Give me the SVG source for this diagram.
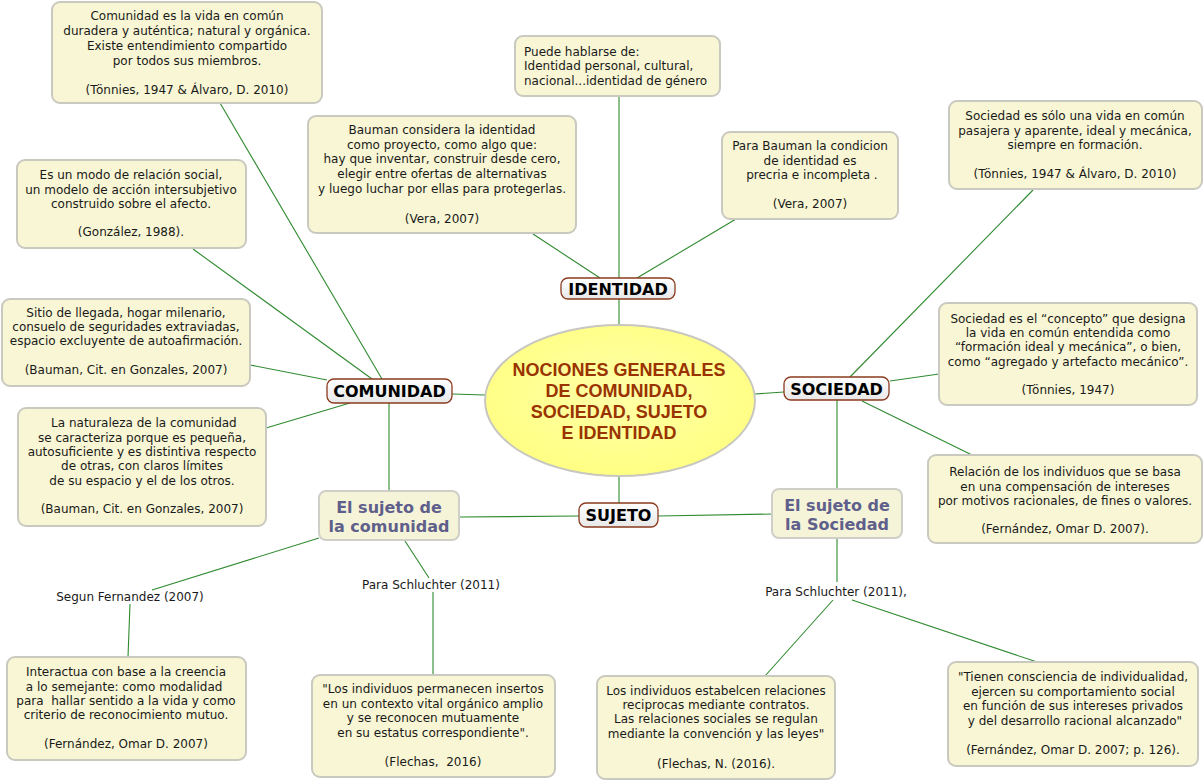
<svg xmlns="http://www.w3.org/2000/svg" width="1204" height="781" viewBox="0 0 1204 781">
<defs>
<radialGradient id="ellg" cx="50%" cy="45%" r="60%">
<stop offset="0%" stop-color="#ffffa8"/>
<stop offset="100%" stop-color="#ffff80"/>
</radialGradient>
<linearGradient id="lblg" x1="0" y1="0" x2="0" y2="1">
<stop offset="0%" stop-color="#ffffff"/>
<stop offset="100%" stop-color="#e8e8e8"/>
</linearGradient>
</defs>
<style>
.box{fill:#f8f6d4;stroke:#c9c9c0;stroke-width:2}
.t{font-family:"DejaVu Sans",Verdana,sans-serif;font-size:12px;fill:#1a1a1a;text-anchor:middle;white-space:pre}
.tl{font-family:"DejaVu Sans",Verdana,sans-serif;font-size:12px;fill:#1a1a1a;white-space:pre}
.lbl{fill:url(#lblg);stroke:#8b3a1e;stroke-width:1.3}
.lt{font-family:"DejaVu Sans",Verdana,sans-serif;font-size:16px;font-weight:bold;fill:#000;text-anchor:middle}
.sj{fill:#f6f4d8;stroke:#cfcfc8;stroke-width:2}
.sjt{font-family:"DejaVu Sans",Verdana,sans-serif;font-size:16px;font-weight:bold;fill:#5f5f8c;text-anchor:middle}
.title{font-family:"Liberation Sans",Arial,sans-serif;font-size:18px;font-weight:bold;fill:#993300;text-anchor:middle}
#connectors line{stroke:#2f8a2f;stroke-width:1.1}
</style>
<rect width="1204" height="781" fill="#ffffff"/>

<g id="connectors">
<line x1="220" y1="103" x2="382" y2="379"/>
<line x1="193" y1="249" x2="372" y2="379"/>
<line x1="250" y1="365" x2="327" y2="380"/>
<line x1="266" y1="428" x2="350" y2="403"/>
<line x1="452" y1="394" x2="485" y2="395"/>
<line x1="389" y1="403" x2="389" y2="491"/>
<line x1="619" y1="96" x2="619" y2="278"/>
<line x1="533" y1="234" x2="600" y2="278"/>
<line x1="736" y1="219" x2="637" y2="278"/>
<line x1="619" y1="299" x2="619" y2="325"/>
<line x1="755" y1="394" x2="784" y2="392"/>
<line x1="1033" y1="190" x2="850" y2="377"/>
<line x1="890" y1="381" x2="939" y2="374"/>
<line x1="862" y1="401" x2="972" y2="455"/>
<line x1="837" y1="400" x2="837" y2="489"/>
<line x1="619" y1="476" x2="619" y2="503"/>
<line x1="658" y1="516" x2="772" y2="514"/>
<line x1="579" y1="516" x2="459" y2="517"/>
<line x1="319" y1="538" x2="152" y2="590"/>
<line x1="130" y1="604" x2="128" y2="657"/>
<line x1="405" y1="541" x2="429" y2="578"/>
<line x1="433" y1="592" x2="433" y2="675"/>
<line x1="837" y1="538" x2="837" y2="582"/>
<line x1="833" y1="600" x2="765" y2="676"/>
<line x1="852" y1="600" x2="1040" y2="663"/>
</g>

<g id="center">
<ellipse cx="620" cy="400.5" rx="135" ry="75.5" fill="url(#ellg)" stroke="#c8c8c0" stroke-width="2"/>
<text class="title" x="619" y="375.5">NOCIONES GENERALES</text>
<text class="title" x="619" y="397">DE COMUNIDAD,</text>
<text class="title" x="619" y="418">SOCIEDAD, SUJETO</text>
<text class="title" x="619" y="438.5">E IDENTIDAD</text>
</g>

<g id="identidad">
<rect class="lbl" x="561" y="278" width="114" height="21" rx="7"/>
<text class="lt" x="618" y="294.5">IDENTIDAD</text>
</g>
<g id="comunidad">
<rect class="lbl" x="327" y="379" width="125" height="24" rx="7"/>
<text class="lt" x="389.5" y="397">COMUNIDAD</text>
</g>
<g id="sociedad">
<rect class="lbl" x="784" y="377" width="105" height="23" rx="7"/>
<text class="lt" x="836.5" y="394.5">SOCIEDAD</text>
</g>
<g id="sujeto">
<rect class="lbl" x="579" y="503" width="79" height="24" rx="7"/>
<text class="lt" x="618.5" y="521">SUJETO</text>
</g>

<g id="sujeto-comunidad">
<rect class="sj" x="319" y="491" width="140" height="49" rx="7"/>
<text class="sjt" x="389" y="512.5">El sujeto de</text>
<text class="sjt" x="389" y="531.5">la comunidad</text>
</g>
<g id="sujeto-sociedad">
<rect class="sj" x="772" y="489" width="130" height="49" rx="7"/>
<text class="sjt" x="837" y="510.5">El sujeto de</text>
<text class="sjt" x="837" y="529.5">la Sociedad</text>
</g>

<g id="box-comunidad-tonnies">
<rect class="box" x="52" y="2" width="270" height="101" rx="8"/>
<text class="t" x="187" y="20">Comunidad es la vida en común</text>
<text class="t" x="187" y="35">duradera y auténtica; natural y orgánica.</text>
<text class="t" x="187" y="50">Existe entendimiento compartido</text>
<text class="t" x="187" y="65">por todos sus miembros.</text>
<text class="t" x="187" y="93.5">(Tönnies, 1947 &amp; Álvaro, D. 2010)</text>
</g>

<g id="box-puede">
<rect class="box" x="515" y="36" width="205" height="60" rx="8"/>
<text class="tl" x="524" y="56">Puede hablarse de:</text>
<text class="tl" x="524" y="70">Identidad personal, cultural,</text>
<text class="tl" x="524" y="84.5">nacional...identidad de género</text>
</g>

<g id="box-bauman-proyecto">
<rect class="box" x="308" y="116" width="268" height="117" rx="8"/>
<text class="t" x="442" y="133.5">Bauman considera la identidad</text>
<text class="t" x="442" y="148.5">como proyecto, como algo que:</text>
<text class="t" x="442" y="163">hay que inventar, construir desde cero,</text>
<text class="t" x="442" y="178">elegir entre ofertas de alternativas</text>
<text class="t" x="442" y="193">y luego luchar por ellas para protegerlas.</text>
<text class="t" x="442" y="222.5">(Vera, 2007)</text>
</g>

<g id="box-bauman-condicion">
<rect class="box" x="722" y="132" width="176" height="87" rx="8"/>
<text class="t" x="810" y="150">Para Bauman la condicion</text>
<text class="t" x="810" y="164.5">de identidad es</text>
<text class="t" x="810" y="179"> precria e incompleta .</text>
<text class="t" x="810" y="207.5">(Vera, 2007)</text>
</g>

<g id="box-sociedad-solo">
<rect class="box" x="949" y="101" width="253" height="88" rx="8"/>
<text class="t" x="1075" y="120">Sociedad es sólo una vida en común</text>
<text class="t" x="1075" y="134.5">pasajera y aparente, ideal y mecánica,</text>
<text class="t" x="1075" y="148.5">siempre en formación.</text>
<text class="t" x="1075" y="177.5">(Tönnies, 1947 &amp; Álvaro, D. 2010)</text>
</g>

<g id="box-modo-relacion">
<rect class="box" x="17" y="160" width="229" height="88" rx="8"/>
<text class="t" x="131" y="179">Es un modo de relación social,</text>
<text class="t" x="131" y="193.5">un modelo de acción intersubjetivo</text>
<text class="t" x="131" y="207.5">construido sobre el afecto.</text>
<text class="t" x="131" y="236">(González, 1988).</text>
</g>

<g id="box-sitio">
<rect class="box" x="2" y="299" width="248" height="87" rx="8"/>
<text class="t" x="126" y="317">Sitio de llegada, hogar milenario,</text>
<text class="t" x="126" y="331">consuelo de seguridades extraviadas,</text>
<text class="t" x="126" y="345">espacio excluyente de autoafirmación.</text>
<text class="t" x="126" y="373.5">(Bauman, Cit. en Gonzales, 2007)</text>
</g>

<g id="box-naturaleza">
<rect class="box" x="18" y="408" width="248" height="118" rx="8"/>
<text class="t" x="142" y="427"> La naturaleza de la comunidad</text>
<text class="t" x="142" y="441.5">se caracteriza porque es pequeña,</text>
<text class="t" x="142" y="456">autosuficiente y es distintiva respecto</text>
<text class="t" x="142" y="470">de otras, con claros límites</text>
<text class="t" x="142" y="484.5">de su espacio y el de los otros.</text>
<text class="t" x="142" y="513">(Bauman, Cit. en Gonzales, 2007)</text>
</g>

<g id="box-concepto">
<rect class="box" x="939" y="303" width="258" height="102" rx="8"/>
<text class="t" x="1068" y="322.5">Sociedad es el “concepto” que designa</text>
<text class="t" x="1068" y="337">la vida en común entendida como</text>
<text class="t" x="1068" y="351">“formación ideal y mecánica”, o bien,</text>
<text class="t" x="1068" y="365.5">como “agregado y artefacto mecánico”.</text>
<text class="t" x="1068" y="393.5">(Tönnies, 1947)</text>
</g>

<g id="box-relacion">
<rect class="box" x="928" y="455" width="274" height="88" rx="8"/>
<text class="t" x="1065" y="476">Relación de los individuos que se basa</text>
<text class="t" x="1065" y="490.5">en una compensación de intereses</text>
<text class="t" x="1065" y="504.5">por motivos racionales, de fines o valores.</text>
<text class="t" x="1065" y="532.5">(Fernández, Omar D. 2007).</text>
</g>

<g id="label-segun">
<text class="t" x="130" y="601">Segun Fernandez (2007)</text>
</g>

<g id="box-interactua">
<rect class="box" x="7" y="657" width="239" height="103" rx="8"/>
<text class="t" x="126" y="676">Interactua con base a la creencia</text>
<text class="t" x="126" y="690.5">a lo semejante: como modalidad </text>
<text class="t" x="126" y="704.5">para  hallar sentido a la vida y como</text>
<text class="t" x="126" y="718.5">criterio de reconocimiento mutuo.</text>
<text class="t" x="126" y="747.5">(Fernández, Omar D. 2007)</text>
</g>

<g id="label-schluchter-1">
<text class="t" x="431" y="589">Para Schluchter (2011)</text>
</g>

<g id="box-permanecen">
<rect class="box" x="312" y="675" width="243" height="102" rx="8"/>
<text class="t" x="433" y="693">"Los individuos permanecen insertos</text>
<text class="t" x="433" y="707.5">en un contexto vital orgánico amplio</text>
<text class="t" x="433" y="722">y se reconocen mutuamente</text>
<text class="t" x="433" y="736.5">en su estatus correspondiente".</text>
<text class="t" x="433" y="766">(Flechas,  2016)</text>
</g>

<g id="label-schluchter-2">
<text class="t" x="836" y="596">Para Schluchter (2011),</text>
</g>

<g id="box-estabelcen">
<rect class="box" x="597" y="676" width="238" height="103" rx="8"/>
<text class="t" x="716" y="694.5">Los individuos estabelcen relaciones</text>
<text class="t" x="716" y="709">reciprocas mediante contratos.</text>
<text class="t" x="716" y="723">Las relaciones sociales se regulan</text>
<text class="t" x="716" y="738">mediante la convención y las leyes"</text>
<text class="t" x="716" y="767.5">(Flechas, N. (2016).</text>
</g>

<g id="box-consciencia">
<rect class="box" x="948" y="662" width="250" height="104" rx="8"/>
<text class="t" x="1073" y="681">"Tienen consciencia de individualidad,</text>
<text class="t" x="1073" y="696">ejercen su comportamiento social</text>
<text class="t" x="1073" y="710">en función de sus intereses privados</text>
<text class="t" x="1073" y="725"> y del desarrollo racional alcanzado"</text>
<text class="t" x="1073" y="754">(Fernández, Omar D. 2007; p. 126).</text>
</g>
</svg>
